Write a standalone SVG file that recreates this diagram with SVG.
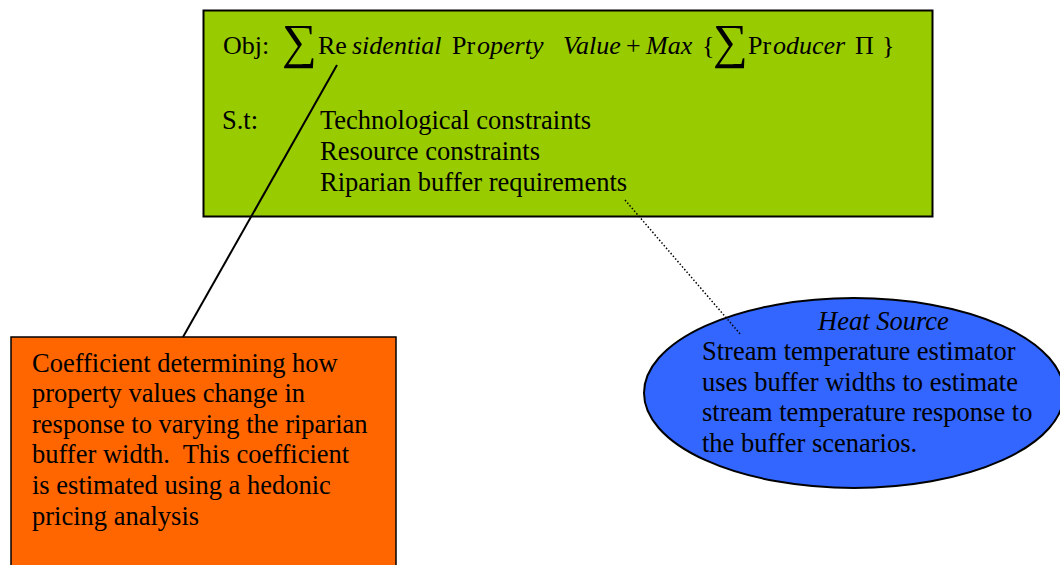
<svg xmlns="http://www.w3.org/2000/svg" width="1060" height="565" viewBox="0 0 1060 565">
<style>
.t{font-family:"Liberation Serif","Times New Roman",serif;font-size:26.5px;fill:#000;white-space:pre}
.e{font-family:"Liberation Serif","Times New Roman",serif;font-size:26px;fill:#000}
.i{font-style:italic}
.sig{font-family:"Liberation Serif","DejaVu Serif",serif;font-size:49px;fill:#000}
.box{stroke:#000;stroke-width:2}
</style>
<rect width="1060" height="565" fill="#fff"/>
<g id="objective">
<rect class="box" x="203.5" y="10.5" width="729" height="206" fill="#99CC00"/>
<text class="e" x="223" y="54">Obj:</text>
<text class="sig" x="282" y="58">∑</text>
<text class="e" x="318" y="54">Re</text>
<text class="e i" x="352" y="54">sidential</text>
<text class="e" x="452" y="54">Pr</text>
<text class="e i" x="477" y="54">operty</text>
<text class="e i" x="563" y="54">Value</text>
<text class="e" x="626" y="54">+</text>
<text class="e i" x="646" y="54">Max</text>
<text class="e" x="702" y="54">{</text>
<text class="sig" x="713" y="58">∑</text>
<text class="e" x="748" y="54">Pr</text>
<text class="e i" x="773" y="54">oducer</text>
<text class="e" x="855" y="54" textLength="22">Π</text>
<text class="e" x="882" y="54">}</text>
<text class="t" x="222" y="129">S.t:</text>
<text class="t" x="320" y="129">Technological constraints</text>
<text class="t" x="320" y="160">Resource constraints</text>
<text class="t" x="320" y="191">Riparian buffer requirements</text>
</g>
<g id="coefficient">
<rect x="11" y="337" width="385" height="240" fill="#FF6600" stroke="#000" stroke-width="1.5"/>
<text class="t" x="32" y="372">Coefficient determining how</text>
<text class="t" x="32" y="402">property values change in</text>
<text class="t" x="32" y="433">response to varying the riparian</text>
<text class="t" x="32" y="463">buffer width.  This coefficient</text>
<text class="t" x="32" y="494">is estimated using a hedonic</text>
<text class="t" x="32" y="525">pricing analysis</text>
</g>
<g id="heatsource">
<ellipse cx="854" cy="393" rx="210" ry="95" fill="#3366FF" stroke="#000" stroke-width="2"/>
<text class="t i" x="818" y="330">Heat Source</text>
<text class="t" x="702" y="360">Stream temperature estimator</text>
<text class="t" x="702" y="391">uses buffer widths to estimate</text>
<text class="t" x="702" y="421">stream temperature response to</text>
<text class="t" x="702" y="452">the buffer scenarios.</text>
</g>
<g id="connectors" fill="none" stroke="#000">
<line x1="337" y1="65" x2="183" y2="337" stroke-width="2"/>
<line x1="625" y1="200" x2="741" y2="335" stroke-width="1.5" stroke-dasharray="1.5 2"/>
</g>
</svg>
